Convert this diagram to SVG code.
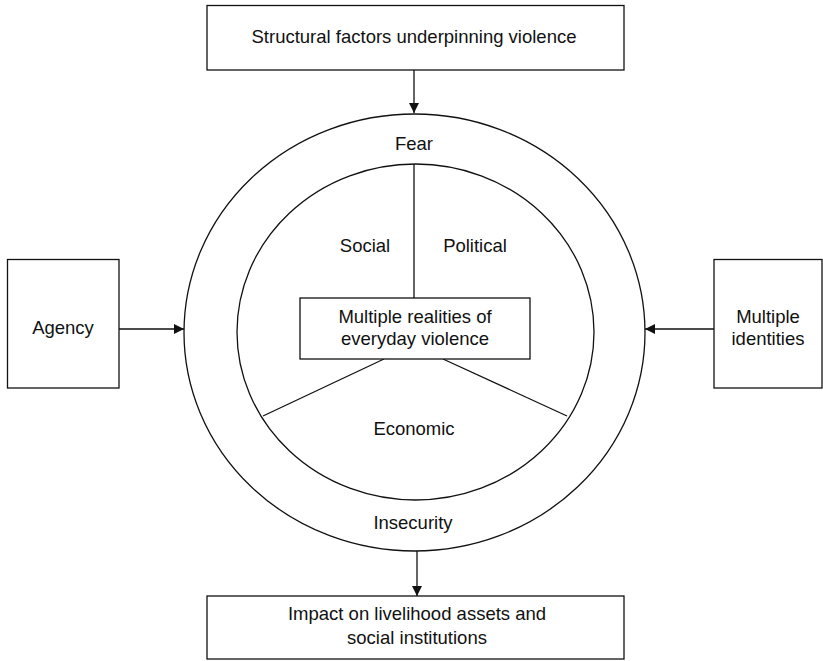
<svg xmlns="http://www.w3.org/2000/svg" width="823" height="661" viewBox="0 0 823 661">
  <style>
    .box { fill: #fff; stroke: #111; stroke-width: 1.3; }
    .ring { fill: none; stroke: #111; stroke-width: 1.3; }
    .edge { fill: none; stroke: #111; stroke-width: 1.3; }
    text { font-family: "Liberation Sans", Arial, sans-serif; font-size: 18.5px; fill: #111; text-anchor: middle; }
  </style>
  <defs>
    <marker id="arrow" viewBox="0 0 10 10" refX="10" refY="5" markerWidth="10" markerHeight="10" markerUnits="userSpaceOnUse" orient="auto">
      <path d="M0,0 L10,5 L0,10 Z" fill="#111"/>
    </marker>
  </defs>

  <rect width="823" height="661" fill="#fff"/>

  <!-- outer ring: Fear / Insecurity -->
  <g id="outer-ring">
    <ellipse class="ring" cx="414.5" cy="332.5" rx="230.5" ry="218.5"/>
    <text x="414" y="150">Fear</text>
    <text x="413" y="529">Insecurity</text>
  </g>

  <!-- inner circle divided into three sectors -->
  <g id="inner-circle">
    <ellipse class="ring" cx="415.5" cy="332" rx="178.5" ry="168"/>
    <line class="edge" x1="414" y1="164" x2="414" y2="298"/>
    <line class="edge" x1="384" y1="359" x2="263" y2="416"/>
    <line class="edge" x1="443" y1="359" x2="567" y2="416"/>
    <text x="365" y="252">Social</text>
    <text x="475" y="252">Political</text>
    <text x="414" y="435">Economic</text>
  </g>

  <g id="structural">
    <rect class="box" x="207" y="5.5" width="417" height="64.5"/>
    <text x="414" y="43">Structural factors underpinning violence</text>
  </g>

  <g id="realities">
    <rect class="box" x="300" y="298" width="230" height="61"/>
    <text x="415" y="323">Multiple realities of</text>
    <text x="415" y="345">everyday violence</text>
  </g>

  <g id="agency">
    <rect class="box" x="7.5" y="259.5" width="111.5" height="128.5"/>
    <text x="63" y="334">Agency</text>
  </g>

  <g id="identities">
    <rect class="box" x="714" y="259.5" width="108" height="128.5"/>
    <text x="768" y="323">Multiple</text>
    <text x="768" y="345">identities</text>
  </g>

  <g id="impact">
    <rect class="box" x="207" y="596" width="417" height="63"/>
    <text x="417" y="620">Impact on livelihood assets and</text>
    <text x="417" y="644">social institutions</text>
  </g>

  <g id="connectors">
    <line class="edge" x1="414" y1="70" x2="414" y2="113" marker-end="url(#arrow)"/>
    <line class="edge" x1="119" y1="329" x2="184" y2="329" marker-end="url(#arrow)"/>
    <line class="edge" x1="714" y1="329" x2="645" y2="329" marker-end="url(#arrow)"/>
    <line class="edge" x1="417" y1="551" x2="417" y2="596" marker-end="url(#arrow)"/>
  </g>
</svg>
